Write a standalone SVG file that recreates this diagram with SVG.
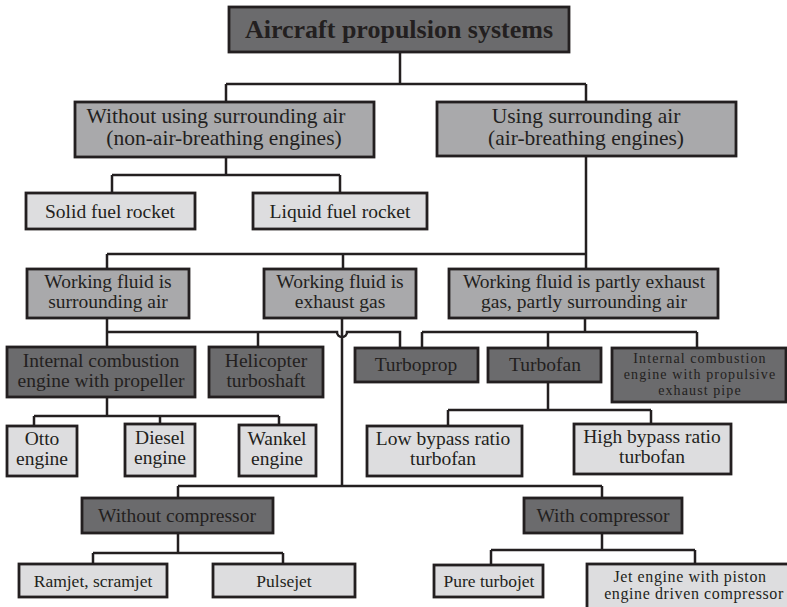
<svg xmlns="http://www.w3.org/2000/svg" width="787" height="607" viewBox="0 0 787 607">
<style>
rect{stroke:#231f20;stroke-width:2.8}
.d{fill:#6b6b6d}
.m{fill:#a9a9ab}
.l{fill:#dddddf}
text{font-family:'Liberation Serif','DejaVu Serif','Times New Roman',serif;fill:#231f20;text-anchor:middle;font-size:19.5px}
.t{font-weight:bold;font-size:26px}
.s2{font-size:21.5px}
.sm{font-size:17.5px}
.sj{font-size:16px;letter-spacing:0.6px}
.xs{font-size:14px;letter-spacing:1.1px}
#connectors path{fill:none;stroke:#231f20;stroke-width:2.5}
</style>
<rect x="0" y="0" width="787" height="607" fill="#fff" style="stroke:none"/>
<g id="connectors">
<path d="M400 52V84M226 84H586M226 84V102M586 84V102"/>
<path d="M226 157V175M112 175H340M112 175V193M340 175V193"/>
<path d="M586 156V269M107 254H586M107 254V269M343 254V269"/>
<path d="M107 318V347M107 332H337A5 5 0 0 0 347 332H400V348M258 332V347"/>
<path d="M585 318V332M422 332H697M422 332V348M548 332V348M697 332V348"/>
<path d="M107 397V416M34 416H279M34 416V426M160 416V424M279 416V425"/>
<path d="M548 382V410M448 410H651M448 410V426M651 410V424"/>
<path d="M342 318V486M178 486H602M178 486V498M602 486V498"/>
<path d="M178 533V553M93 553H283M93 553V564M283 553V564"/>
<path d="M602 533V550M491 550H695M491 550V565M695 550V564"/>
</g>
<g id="n-root"><rect class="d" x="229" y="7" width="340" height="45"/><text class="t" x="399" y="38">Aircraft propulsion systems</text></g>
<g id="n-nonair"><rect class="m" x="75" y="102" width="299" height="55"/><text class="s2" x="216" y="123">Without using surrounding air</text><text class="s2" x="224" y="145">(non-air-breathing engines)</text></g>
<g id="n-air"><rect class="m" x="437" y="102" width="299" height="54"/><text class="s2" x="586" y="123">Using surrounding air</text><text class="s2" x="586" y="145">(air-breathing engines)</text></g>
<g id="n-solid"><rect class="l" x="26" y="193" width="169" height="36"/><text x="110" y="218">Solid fuel rocket</text></g>
<g id="n-liquid"><rect class="l" x="253" y="193" width="174" height="36"/><text x="340" y="218">Liquid fuel rocket</text></g>
<g id="n-wf-air"><rect class="m" x="27" y="269" width="162" height="49"/><text x="108" y="288">Working fluid is</text><text x="108" y="308">surrounding air</text></g>
<g id="n-wf-gas"><rect class="m" x="264" y="269" width="152" height="49"/><text x="340" y="288">Working fluid is</text><text x="340" y="308">exhaust gas</text></g>
<g id="n-wf-partly"><rect class="m" x="449" y="269" width="269" height="49"/><text x="584" y="288">Working fluid is partly exhaust</text><text x="584" y="308">gas, partly surrounding air</text></g>
<g id="n-ice-prop"><rect class="d" x="7" y="347" width="188" height="50"/><text x="101" y="367">Internal combustion</text><text x="101" y="387">engine with propeller</text></g>
<g id="n-heli"><rect class="d" x="209" y="347" width="114" height="50"/><text x="266" y="367">Helicopter</text><text x="266" y="387">turboshaft</text></g>
<g id="n-turboprop"><rect class="d" x="355" y="348" width="123" height="34"/><text x="416" y="371">Turboprop</text></g>
<g id="n-turbofan"><rect class="d" x="488" y="348" width="113" height="34"/><text x="545" y="371">Turbofan</text></g>
<g id="n-ice-pipe"><rect class="d" x="612" y="348" width="174" height="54"/><text class="xs" x="700" y="363">Internal combustion</text><text class="xs" x="700" y="379">engine with propulsive</text><text class="xs" x="700" y="395">exhaust pipe</text></g>
<g id="n-otto"><rect class="l" x="7" y="426" width="70" height="50"/><text x="42" y="445">Otto</text><text x="42" y="465">engine</text></g>
<g id="n-diesel"><rect class="l" x="125" y="424" width="70" height="52"/><text x="160" y="444">Diesel</text><text x="160" y="464">engine</text></g>
<g id="n-wankel"><rect class="l" x="239" y="425" width="77" height="51"/><text x="277" y="445">Wankel</text><text x="277" y="465">engine</text></g>
<g id="n-low"><rect class="l" x="367" y="426" width="155" height="50"/><text x="443" y="445">Low bypass ratio</text><text x="443" y="465">turbofan</text></g>
<g id="n-high"><rect class="l" x="574" y="424" width="157" height="50"/><text x="652" y="443">High bypass ratio</text><text x="652" y="463">turbofan</text></g>
<g id="n-without"><rect class="d" x="82" y="498" width="191" height="35"/><text x="177" y="522">Without compressor</text></g>
<g id="n-with"><rect class="d" x="524" y="498" width="158" height="35"/><text x="603" y="522">With compressor</text></g>
<g id="n-ramjet"><rect class="l" x="19" y="564" width="148" height="33"/><text class="sm" x="93" y="587">Ramjet, scramjet</text></g>
<g id="n-pulsejet"><rect class="l" x="213" y="564" width="142" height="33"/><text class="sm" x="284" y="587">Pulsejet</text></g>
<g id="n-turbojet"><rect class="l" x="434" y="565" width="109" height="32"/><text class="sm" x="489" y="587">Pure turbojet</text></g>
<g id="n-jetpiston"><rect class="l" x="587" y="564" width="204" height="46"/><text class="sj" x="690" y="582">Jet engine with piston</text><text class="sj" x="694" y="599">engine driven compressor</text></g>
</svg>
